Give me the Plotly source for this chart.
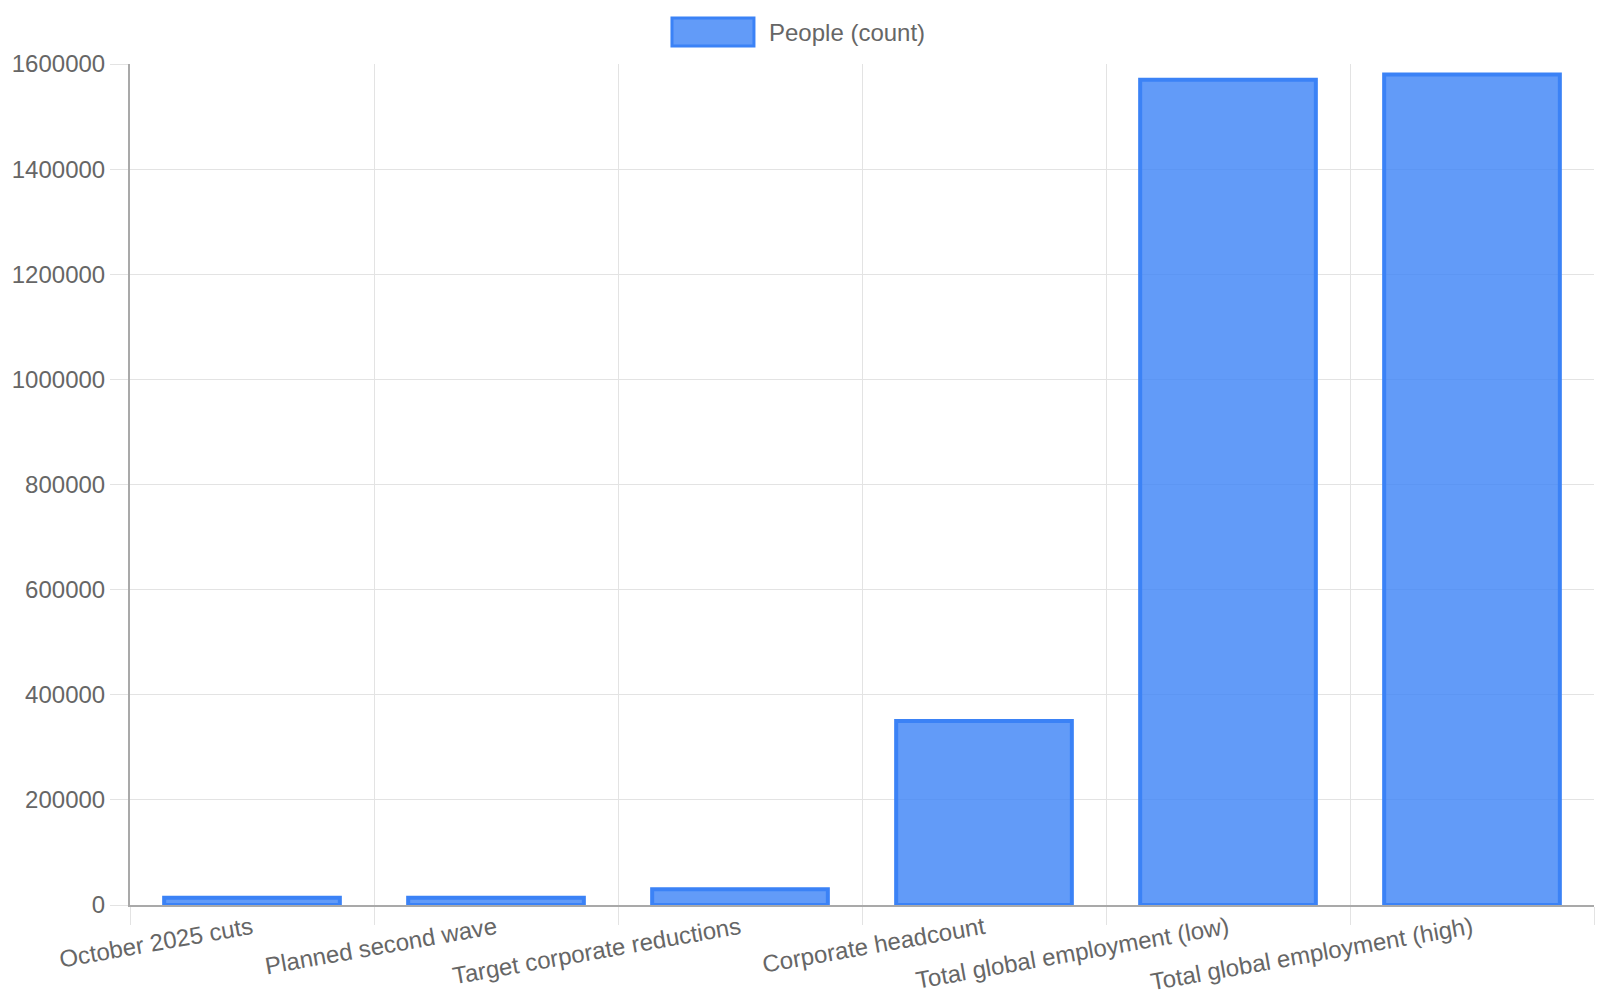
import plotly.graph_objects as go

categories = [
    "October 2025 cuts",
    "Planned second wave",
    "Target corporate reductions",
    "Corporate headcount",
    "Total global employment (low)",
    "Total global employment (high)",
]
people = [14000, 14000, 30000, 350000, 1570000, 1580000]
series_name = "People (count)"

blue_fill = "rgba(59,130,246,0.8)"
blue_line = "#3B82F6"
grid = "#e3e3e3"
axis_col = "#a9a9a9"
txt = "#666666"
font_family = "Liberation Sans, Arial, Helvetica, sans-serif"

fig = go.Figure()
fig.add_trace(go.Bar(
    x=categories, y=people, name=series_name,
    marker=dict(color=blue_fill, line=dict(color=blue_line, width=4)),
    showlegend=False,
))

# legend drawn like the original's wide swatch
fig.add_shape(type="rect", xref="paper", yref="paper",
              x0=0.3702, x1=0.4262, y0=1.0214, y1=1.0547,
              fillcolor=blue_fill, line=dict(color=blue_line, width=3))
fig.add_annotation(text=series_name, xref="paper", yref="paper",
                   x=0.4351, y=1.038, xanchor="left", yanchor="middle",
                   showarrow=False, font=dict(size=24, color=txt, family=font_family))

fig.update_layout(
    width=1600, height=1000,
    margin=dict(l=130, r=6, t=64, b=95),
    plot_bgcolor="white", paper_bgcolor="white",
    bargap=0.28,
    font=dict(family=font_family, size=24, color=txt),
)
fig.update_xaxes(
    tickson="boundaries", showgrid=True, gridcolor=grid, gridwidth=1,
    ticks="outside", ticklen=18, tickcolor=grid, tickangle=-10,
    showline=True, linecolor=axis_col, linewidth=2,
    ticklabelstandoff=-2, automargin=False,
    tickfont=dict(size=24, color=txt),
)
fig.update_yaxes(
    range=[0, 1600000], dtick=200000, tickformat="d",
    showgrid=True, gridcolor=grid, gridwidth=1,
    ticks="outside", ticklen=18, tickcolor=grid,
    showline=True, linecolor=axis_col, linewidth=2,
    zeroline=False, ticklabelstandoff=0, automargin=False,
    tickfont=dict(size=24, color=txt),
)

fig.write_html("out.html", config={"displayModeBar": False},
               post_script="document.body.style.margin='0';")
